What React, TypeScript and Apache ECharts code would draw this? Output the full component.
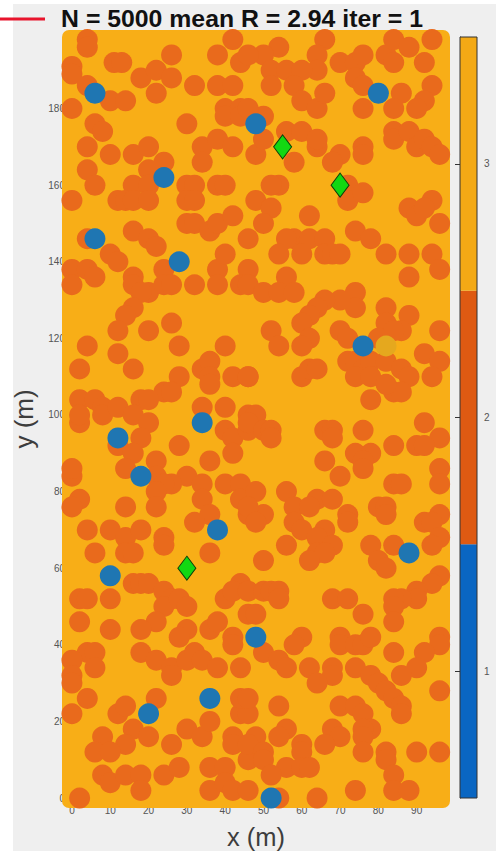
import React, { useEffect, useRef } from "react";
import * as echarts from "echarts";

const titleText = "N = 5000 mean R = 2.94 iter = 1";
const xTicks = [0, 10, 20, 30, 40, 50, 60, 70, 80, 90];
const yTicks = [0, 20, 40, 60, 80, 100, 120, 140, 160, 180];
const colorbarCategories = ["1", "2", "3"];
const colorbarValues = [1, 1, 1];
const colorbarColors = ["#0a66c2", "#de5a12", "#f3a915"];

const blueNodes = [
  [6, 184], [48, 176], [80, 184], [24, 162], [6, 146], [28, 140], [76, 118], [12, 94], [34, 98],
  [18, 84], [38, 70], [88, 64], [10, 58], [48, 42], [36, 26], [20, 22], [52, 0],
];
const greenNodes = [[55, 170], [70, 160], [30, 60]];
const goldNodes = [[82, 118]];
const orangeNodes = [
  [4, 198], [4, 196], [0, 191], [0, 189], [11, 192], [13, 192], [26, 194], [18, 188], [22, 190], [26, 188],
  [22, 184], [32, 186], [38, 194], [42, 198], [44, 192], [38, 186], [42, 186], [40, 180], [44, 180], [40, 178],
  [44, 178], [4, 186], [10, 182], [14, 182], [0, 180], [6, 176], [8, 174], [30, 176], [4, 170], [4, 164],
  [6, 160], [10, 168], [16, 168], [20, 170], [24, 166], [20, 164], [16, 160], [20, 160], [12, 156], [14, 156],
  [16, 156], [20, 156], [30, 160], [32, 160], [30, 156], [32, 156], [30, 150], [32, 150], [36, 148], [38, 150],
  [42, 152], [34, 170], [34, 166], [38, 172], [42, 170], [38, 160], [40, 160], [0, 156], [16, 148], [20, 146],
  [22, 144], [4, 146], [10, 142], [12, 140], [0, 138], [4, 138], [16, 136], [24, 138], [38, 138], [40, 142],
  [66, 198], [64, 194], [64, 190], [54, 196], [50, 194], [46, 194], [52, 190], [52, 186], [56, 190], [60, 190],
  [58, 186], [60, 182], [64, 180], [66, 184], [70, 192], [74, 192], [76, 194], [74, 188], [76, 186], [76, 180],
  [82, 194], [84, 192], [84, 198], [88, 196], [94, 198], [92, 192], [86, 184], [94, 186], [92, 182], [90, 180],
  [84, 180], [84, 174], [84, 172], [88, 174], [90, 170], [92, 172], [94, 170], [96, 168], [76, 170], [76, 168],
  [70, 168], [68, 166], [64, 170], [56, 174], [60, 174], [64, 172], [50, 178], [48, 168], [50, 172], [58, 166],
  [46, 180], [54, 160], [52, 160], [72, 160], [72, 156], [76, 158], [48, 156], [52, 154], [50, 150], [46, 146],
  [62, 152], [58, 146], [56, 146], [62, 146], [66, 146], [74, 148], [78, 146], [88, 154], [90, 152], [94, 156],
  [92, 154], [96, 150], [54, 142], [60, 142], [66, 142], [68, 142], [70, 142], [82, 142], [88, 142], [94, 142],
  [96, 138], [56, 136], [46, 138], [88, 136],
  [0, 134], [6, 136], [16, 134], [20, 132], [18, 132], [24, 134], [26, 134], [32, 134], [38, 134], [44, 134],
  [16, 128], [14, 126], [12, 122], [20, 122], [26, 124], [4, 118], [12, 116], [28, 118], [40, 118], [2, 112],
  [16, 112], [28, 110], [34, 112], [36, 114], [36, 110], [36, 108], [42, 110], [46, 110], [24, 106], [26, 106],
  [18, 104], [20, 104], [2, 104], [6, 104], [2, 98], [2, 100], [8, 102], [8, 100], [12, 102], [16, 100],
  [20, 98], [18, 94], [12, 92], [16, 90], [14, 86], [22, 88], [22, 84], [28, 92], [34, 102], [40, 102],
  [40, 96], [42, 94], [36, 88], [42, 90], [46, 100], [46, 96], [30, 84], [26, 82], [24, 82], [34, 82],
  [22, 80], [22, 76], [34, 78], [36, 74], [32, 72], [40, 82], [44, 82], [44, 78], [46, 74], [0, 84],
  [0, 86], [2, 78], [0, 76], [14, 76], [4, 70], [10, 70], [14, 68], [18, 70], [24, 68], [24, 66],
  [6, 64], [14, 64], [16, 64], [36, 64],
  [46, 134], [50, 132], [54, 132], [58, 132], [74, 132], [74, 128], [70, 130], [66, 130], [64, 128], [62, 126],
  [60, 124], [62, 120], [60, 118], [52, 122], [54, 118], [70, 122], [72, 120], [82, 128], [82, 124], [88, 126],
  [86, 122], [96, 122], [84, 122], [80, 120], [72, 114], [74, 114], [76, 112], [78, 114], [74, 110], [78, 110],
  [78, 104], [82, 114], [86, 112], [88, 110], [84, 106], [86, 106], [82, 108], [92, 116], [96, 114], [94, 110],
  [60, 110], [62, 112], [64, 112], [46, 110], [48, 100], [46, 98], [50, 96], [52, 96], [52, 94], [66, 96],
  [68, 96], [68, 94], [76, 96], [92, 98], [96, 94], [84, 92], [90, 92], [92, 92], [74, 90], [78, 90],
  [76, 88], [76, 86], [66, 88], [70, 84], [96, 86], [96, 82], [84, 82], [86, 82], [48, 80], [56, 80],
  [64, 78], [68, 78], [58, 76], [62, 76], [50, 74], [46, 76], [48, 72], [58, 72], [60, 70], [72, 74],
  [72, 72], [80, 76], [82, 76], [82, 74], [96, 74], [92, 72], [94, 72], [56, 66], [66, 70], [64, 68],
  [68, 66], [64, 64], [66, 64], [78, 66], [84, 66], [96, 68], [94, 66], [50, 62], [62, 62], [80, 62],
  [16, 56], [18, 56], [20, 56], [24, 54], [26, 52], [24, 50], [28, 52], [30, 50], [22, 46], [18, 44],
  [2, 52], [4, 52], [10, 52], [2, 46], [10, 44], [30, 44], [28, 42], [36, 44], [38, 46], [40, 52],
  [44, 56], [42, 54], [42, 42], [42, 40], [46, 48], [4, 38], [6, 38], [6, 34], [0, 36], [0, 32],
  [0, 30], [18, 38], [22, 36], [26, 34], [26, 32], [30, 36], [32, 38], [34, 36], [38, 34], [44, 34],
  [4, 26], [0, 22], [12, 22], [14, 24], [22, 26], [16, 18], [20, 16], [14, 14], [8, 16], [6, 12],
  [10, 12], [26, 14], [30, 18], [34, 16], [36, 20], [42, 16], [42, 14], [44, 22], [46, 22], [44, 26],
  [46, 26], [46, 10], [8, 6], [10, 4], [14, 6], [18, 6], [18, 2], [24, 6], [28, 8], [36, 8],
  [40, 8], [36, 2], [40, 4], [42, 2], [2, 0], [46, 2],
  [82, 60], [96, 58], [94, 56], [90, 54], [90, 52], [86, 52], [84, 52], [84, 50], [84, 46], [68, 52],
  [72, 52], [76, 48], [48, 48], [46, 54], [50, 54], [52, 54], [54, 54], [54, 52], [60, 42], [58, 40],
  [70, 42], [70, 40], [74, 40], [76, 40], [78, 42], [84, 38], [96, 42], [96, 40], [92, 38], [90, 34],
  [86, 32], [50, 38], [54, 36], [56, 34], [62, 34], [68, 34], [68, 32], [64, 30], [74, 34], [78, 32],
  [80, 30], [82, 28], [84, 26], [86, 24], [86, 22], [96, 28], [54, 24], [70, 24], [74, 24], [76, 22],
  [78, 18], [76, 18], [76, 16], [76, 12], [68, 18], [70, 16], [66, 14], [56, 18], [54, 16], [60, 14],
  [60, 12], [56, 8], [60, 8], [62, 8], [48, 16], [46, 14], [50, 12], [50, 10], [52, 6], [82, 12],
  [82, 10], [84, 6], [90, 12], [96, 12], [84, 2], [88, 2], [74, 2], [64, 0], [54, 0],
];

export default function App() {
  const ref = useRef<HTMLDivElement>(null);
  useEffect(() => {
    const chart = echarts.init(ref.current!, undefined, { renderer: "svg" });
    const sans = "'Liberation Sans', Arial, sans-serif";
    chart.setOption({
      animation: false,
      backgroundColor: "#ffffff",
      textStyle: { fontFamily: sans },
      title: {
        text: titleText,
        left: 237,
        top: 1,
        textAlign: "center",
        textVerticalAlign: "top",
        textStyle: { fontFamily: sans, fontSize: 24.8, fontWeight: "bold", color: "#111111" },
      },
      grid: [
        { left: 62, top: 30, width: 388, height: 778, outerBoundsMode: "none" },
        { left: 460, top: 37, width: 17, height: 761, outerBoundsMode: "none" },
      ],
      xAxis: [
        {
          gridIndex: 0,
          type: "value",
          min: -2.6,
          max: 98.7,
          name: "x (m)",
          nameLocation: "middle",
          nameGap: 16,
          nameTextStyle: { fontSize: 25.5, color: "#3d3d3d", fontFamily: sans },
          splitLine: { show: false },
          axisLine: { show: false },
          axisTick: { show: false },
          axisLabel: {
            customValues: xTicks,
            margin: -3,
            fontSize: 10,
            color: "#555555",
            fontFamily: sans,
          },
        },
        { gridIndex: 1, type: "value", min: 0, max: 1, show: false },
      ],
      yAxis: [
        {
          gridIndex: 0,
          type: "value",
          min: -2.6,
          max: 200.5,
          name: "y (m)",
          nameLocation: "middle",
          nameGap: 19,
          nameRotate: 90,
          nameTextStyle: { fontSize: 26, color: "#3d3d3d", fontFamily: sans },
          splitLine: { show: false },
          axisLine: { show: false },
          axisTick: { show: false },
          axisLabel: {
            customValues: yTicks,
            margin: -3,
            fontSize: 10,
            color: "#555555",
            fontFamily: sans,
          },
        },
        {
          gridIndex: 1,
          type: "category",
          position: "right",
          data: colorbarCategories,
          axisLine: { show: true, lineStyle: { color: "#333333", width: 1 } },
          axisTick: { show: true, inside: true, length: 5, alignWithLabel: true, lineStyle: { color: "#333333" } },
          axisLabel: { margin: 7, fontSize: 10, color: "#555555", fontFamily: sans },
        },
      ],
      graphic: {
        elements: [
          { type: "rect", z: -10, shape: { x: 13, y: 4, width: 483, height: 847 }, style: { fill: "#efefef" }, silent: true },
          { type: "rect", z: 1, shape: { x: 62, y: 30, width: 388, height: 778, r: 7 }, style: { fill: "#f8ae17" }, silent: true },
          { type: "rect", z: 5, shape: { x: 460, y: 37, width: 17, height: 761 }, style: { fill: "none", stroke: "#333333", lineWidth: 1 }, silent: true },
          { type: "line", z: 5, shape: { x1: 0, y1: 19, x2: 45, y2: 19 }, style: { stroke: "#e8142c", lineWidth: 3 }, silent: true },
        ],
      },
      series: [
        {
          type: "scatter",
          xAxisIndex: 0,
          yAxisIndex: 0,
          z: 2,
          symbolSize: 21,
          data: orangeNodes,
          itemStyle: { color: "#e96a1c", opacity: 1 },
        },
        {
          type: "scatter",
          xAxisIndex: 0,
          yAxisIndex: 0,
          z: 3,
          symbolSize: 21,
          data: goldNodes,
          itemStyle: { color: "#e5a81e", opacity: 1 },
        },
        {
          type: "scatter",
          xAxisIndex: 0,
          yAxisIndex: 0,
          z: 4,
          symbolSize: 21,
          data: blueNodes,
          itemStyle: { color: "#1f76b2", opacity: 1 },
        },
        {
          type: "scatter",
          xAxisIndex: 0,
          yAxisIndex: 0,
          z: 5,
          symbol: "diamond",
          symbolSize: [18, 24],
          data: greenNodes,
          itemStyle: { color: "#12d812", borderColor: "#0c3f0c", borderWidth: 1, opacity: 1 },
        },
        {
          type: "bar",
          xAxisIndex: 1,
          yAxisIndex: 1,
          barWidth: "100%",
          z: 2,
          data: colorbarValues.map((v, i) => ({ value: v, itemStyle: { color: colorbarColors[i] } })),
        },
      ],
    });
    return () => chart.dispose();
  }, []);
  return <div ref={ref} style={{ position: "absolute", left: 0, top: 0, width: 496, height: 851 }} />;
}
